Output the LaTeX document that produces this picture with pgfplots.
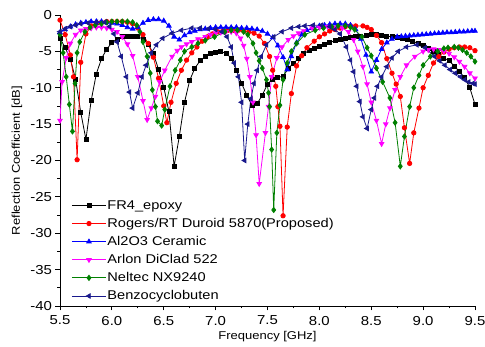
\documentclass[border=0pt]{standalone}
\usepackage{fontspec}
\setmainfont{Liberation Sans}[FakeStretch=1.15]
\usepackage{pgfplots}
\pgfplotsset{compat=1.18}
\definecolor{cblack}{RGB}{0,0,0}
\definecolor{cred}{RGB}{255,0,0}
\definecolor{cblue}{RGB}{0,0,255}
\definecolor{cmag}{RGB}{255,0,255}
\definecolor{cgreen}{RGB}{0,128,0}
\definecolor{cnavy}{RGB}{25,25,140}
\begin{document}
\begin{tikzpicture}
\begin{axis}[
  at={(0,0)}, anchor=south west,
  scale only axis, width=415pt, height=291pt,
  xmin=5.5, xmax=9.5, ymin=-40, ymax=0,
  axis x line*=bottom, axis y line*=left,
  axis line style={line width=0.8pt, -},
  xtick={5.5,6.0,6.5,7.0,7.5,8.0,8.5,9.0,9.5}, minor x tick num=1,
  ytick={-40,-35,-30,-25,-20,-15,-10,-5,0}, minor y tick num=1,
  tick align=outside,
  major tick length=4.5pt, minor tick length=2.5pt,
  tick style={line width=0.8pt, black},
  xticklabel style={yshift=-2pt, /pgf/number format/.cd, fixed, fixed zerofill, precision=1},
  /pgf/number format/assume math mode=true,
  tick label style={font=\fontsize{13}{15}\selectfont},
  xlabel={Frequency [GHz]}, ylabel={Reflection Coefficient [dB]},
  label style={font=\fontsize{11.3}{13}\selectfont},
  xlabel style={at={(axis description cs:0.5,-0.106)}, anchor=center},
  ylabel style={at={(axis description cs:-0.104,0.5)}, anchor=center},
  every axis plot/.append style={line width=0.8pt},
  legend cell align=left,
  legend image code/.code={\draw[mark repeat=2,mark phase=2,#1] plot coordinates {(0cm,0cm) (0.6cm,0cm) (1.2cm,0cm)};},
  legend style={draw=none, fill=none, at={(axis description cs:0.02,0.005)}, anchor=south west,
    font=\fontsize{12.7}{15}\selectfont, row sep=5.4pt,
    nodes={inner sep=1pt}},
]
\addplot[cblack, mark=square*, mark size=2pt] coordinates {
(5.50,-3.2)(5.55,-4.5)(5.60,-6.1)(5.65,-8.8)(5.70,-13.4)(5.75,-17.1)(5.80,-11.8)(5.85,-8.1)(5.90,-6.0)(5.95,-4.7)(6.00,-3.8)(6.05,-3.3)(6.10,-3.0)(6.15,-2.9)(6.20,-2.9)(6.25,-3.0)(6.30,-3.3)(6.35,-4.0)(6.40,-5.3)(6.45,-7.5)(6.50,-9.9)(6.55,-13.3)(6.60,-20.8)(6.65,-16.7)(6.70,-12.0)(6.75,-9.0)(6.80,-7.3)(6.85,-6.3)(6.90,-5.7)(6.95,-5.3)(7.00,-5.1)(7.05,-5.0)(7.10,-5.3)(7.15,-5.9)(7.20,-7.6)(7.25,-9.4)(7.30,-11.0)(7.35,-12.4)(7.40,-12.2)(7.45,-11.0)(7.50,-9.5)(7.55,-8.8)(7.60,-8.6)(7.65,-8.4)(7.70,-7.4)(7.75,-6.6)(7.80,-6.0)(7.85,-5.3)(7.90,-4.9)(7.95,-4.6)(8.00,-4.3)(8.05,-4.0)(8.10,-3.8)(8.15,-3.5)(8.20,-3.3)(8.25,-3.2)(8.30,-3.1)(8.35,-3.0)(8.40,-2.9)(8.45,-2.8)(8.50,-2.7)(8.55,-2.7)(8.60,-2.8)(8.65,-2.9)(8.70,-3.0)(8.75,-3.1)(8.80,-3.2)(8.85,-3.4)(8.90,-3.6)(8.95,-3.9)(9.00,-4.2)(9.05,-4.6)(9.10,-5.0)(9.15,-5.4)(9.20,-5.9)(9.25,-6.3)(9.30,-7.0)(9.35,-7.8)(9.40,-8.6)(9.45,-10.0)(9.50,-12.3)
};
\addlegendentry{FR4\_epoxy}
\addplot[cred, mark=*, mark size=2.2pt] coordinates {
(5.50,-0.7)(5.55,-2.7)(5.60,-5.5)(5.63,-8.5)(5.665,-19.9)(5.70,-6.5)(5.75,-2.6)(5.80,-1.5)(5.85,-1.1)(5.90,-1.0)(5.95,-0.9)(6.00,-0.9)(6.05,-0.9)(6.10,-0.9)(6.15,-1.0)(6.20,-1.2)(6.25,-1.8)(6.30,-2.7)(6.35,-3.9)(6.40,-5.8)(6.45,-8.7)(6.50,-12.5)(6.53,-14.8)(6.57,-12.0)(6.62,-9.4)(6.67,-7.6)(6.72,-6.2)(6.77,-5.2)(6.82,-4.4)(6.87,-3.6)(6.92,-3.0)(6.97,-2.6)(7.02,-2.3)(7.07,-2.2)(7.12,-2.1)(7.17,-2.1)(7.22,-2.1)(7.27,-2.2)(7.32,-2.3)(7.37,-2.5)(7.42,-2.9)(7.47,-3.9)(7.52,-5.7)(7.55,-7.6)(7.58,-9.8)(7.60,-12.6)(7.62,-15.3)(7.65,-27.6)(7.69,-15.4)(7.73,-10.8)(7.78,-7.0)(7.83,-5.6)(7.88,-4.5)(7.95,-3.6)(8.00,-3.0)(8.05,-2.6)(8.10,-2.2)(8.15,-2.0)(8.20,-1.8)(8.25,-1.6)(8.30,-1.5)(8.35,-1.5)(8.42,-1.5)(8.46,-1.7)(8.50,-2.0)(8.55,-2.8)(8.60,-3.8)(8.65,-6.0)(8.70,-8.0)(8.74,-9.5)(8.78,-11.2)(8.82,-15.5)(8.87,-20.4)(8.91,-16.2)(8.96,-12.8)(9.00,-10.0)(9.05,-8.3)(9.10,-6.6)(9.15,-5.7)(9.20,-5.1)(9.25,-4.7)(9.30,-4.5)(9.35,-4.4)(9.40,-4.4)(9.45,-4.5)(9.50,-4.9)
};
\addlegendentry{Rogers/RT Duroid 5870(Proposed)}
\addplot[cblue, mark=triangle*, mark size=2.6pt] coordinates {
(5.50,-2.4)(5.55,-2.0)(5.60,-1.6)(5.65,-1.3)(5.70,-1.1)(5.75,-1.0)(5.80,-0.9)(5.85,-0.9)(5.90,-0.9)(5.95,-1.0)(6.00,-1.1)(6.05,-1.2)(6.10,-1.4)(6.15,-1.7)(6.20,-1.9)(6.25,-1.7)(6.30,-1.1)(6.35,-0.7)(6.40,-0.6)(6.45,-0.6)(6.50,-0.8)(6.55,-1.5)(6.60,-3.0)(6.65,-3.4)(6.70,-2.8)(6.75,-2.4)(6.80,-2.2)(6.85,-2.0)(6.90,-1.9)(6.95,-1.8)(7.00,-1.7)(7.05,-1.7)(7.10,-1.7)(7.15,-1.7)(7.20,-1.7)(7.25,-1.8)(7.30,-1.8)(7.35,-1.9)(7.40,-2.0)(7.45,-2.2)(7.50,-2.6)(7.55,-3.1)(7.60,-4.2)(7.65,-5.8)(7.69,-7.5)(7.73,-5.7)(7.78,-3.8)(7.83,-2.7)(7.88,-2.1)(7.93,-1.8)(8.00,-1.5)(8.05,-1.4)(8.10,-1.3)(8.15,-1.2)(8.20,-1.2)(8.25,-1.2)(8.30,-1.4)(8.35,-2.0)(8.40,-3.3)(8.45,-5.5)(8.50,-7.8)(8.55,-6.2)(8.60,-4.7)(8.65,-3.8)(8.70,-3.3)(8.75,-3.0)(8.79,-2.95)(8.83,-2.9)(8.87,-2.85)(8.91,-2.8)(8.95,-2.75)(8.99,-2.7)(9.03,-2.65)(9.07,-2.6)(9.11,-2.55)(9.15,-2.5)(9.19,-2.45)(9.23,-2.4)(9.27,-2.4)(9.31,-2.35)(9.35,-2.3)(9.39,-2.3)(9.43,-2.25)(9.47,-2.2)(9.50,-2.2)
};
\addlegendentry{Al2O3 Ceramic}
\addplot[cmag, mark=triangle*, mark options={rotate=180}, mark size=2.6pt] coordinates {
(5.50,-14.5)(5.52,-9.2)(5.56,-5.9)(5.60,-3.9)(5.65,-2.7)(5.70,-2.1)(5.75,-1.9)(5.80,-1.8)(5.85,-1.7)(5.90,-1.7)(5.95,-1.8)(6.00,-2.0)(6.05,-2.3)(6.10,-3.0)(6.15,-4.0)(6.20,-5.6)(6.25,-8.5)(6.30,-11.8)(6.34,-14.4)(6.38,-12.8)(6.42,-11.2)(6.46,-9.2)(6.51,-7.6)(6.58,-5.7)(6.63,-4.9)(6.67,-4.4)(6.72,-4.0)(6.77,-3.7)(6.83,-3.3)(6.90,-3.0)(6.95,-2.7)(7.00,-2.5)(7.05,-2.4)(7.10,-2.3)(7.15,-2.3)(7.20,-2.5)(7.24,-3.2)(7.27,-4.2)(7.30,-6.0)(7.33,-8.5)(7.36,-12.0)(7.39,-16.5)(7.42,-23.2)(7.48,-16.2)(7.51,-12.6)(7.54,-8.5)(7.59,-5.9)(7.64,-4.4)(7.70,-3.4)(7.75,-2.9)(7.80,-2.5)(7.85,-2.2)(7.93,-1.8)(8.00,-1.7)(8.08,-1.6)(8.15,-1.7)(8.22,-1.8)(8.28,-2.3)(8.33,-3.4)(8.37,-5.0)(8.42,-7.1)(8.46,-9.5)(8.50,-12.0)(8.55,-14.5)(8.60,-17.7)(8.64,-15.0)(8.68,-12.8)(8.73,-10.3)(8.78,-8.5)(8.84,-6.9)(8.92,-5.7)(9.00,-5.0)(9.05,-4.8)(9.10,-4.7)(9.15,-4.8)(9.20,-5.0)(9.25,-5.3)(9.30,-5.8)(9.35,-6.4)(9.40,-7.1)(9.45,-8.0)(9.50,-8.7)
};
\addlegendentry{Arlon DiClad 522}
\addplot[cgreen, mark=diamond*, mark size=2.6pt] coordinates {
(5.50,-2.7)(5.53,-5.2)(5.56,-8.5)(5.59,-12.3)(5.62,-16.0)(5.645,-9.4)(5.665,-5.2)(5.69,-3.7)(5.74,-2.3)(5.79,-1.7)(5.84,-1.4)(5.90,-1.2)(5.95,-1.0)(6.00,-0.9)(6.05,-0.9)(6.10,-0.9)(6.15,-0.9)(6.20,-1.0)(6.24,-1.4)(6.27,-2.3)(6.30,-3.7)(6.34,-5.7)(6.37,-8.0)(6.39,-10.3)(6.42,-12.6)(6.44,-14.6)(6.48,-15.2)(6.51,-13.0)(6.56,-9.8)(6.61,-7.6)(6.66,-6.2)(6.70,-5.0)(6.77,-4.4)(6.83,-3.9)(6.90,-3.5)(6.99,-3.0)(7.09,-2.3)(7.15,-2.1)(7.21,-2.1)(7.27,-2.3)(7.31,-2.7)(7.36,-3.9)(7.39,-5.2)(7.42,-6.3)(7.45,-7.3)(7.49,-8.9)(7.51,-10.7)(7.52,-12.6)(7.54,-18.5)(7.56,-26.8)(7.59,-16.2)(7.62,-12.4)(7.65,-8.9)(7.69,-6.6)(7.73,-5.0)(7.78,-3.9)(7.86,-2.7)(7.96,-2.1)(8.04,-1.8)(8.12,-1.6)(8.18,-1.5)(8.25,-1.5)(8.30,-1.7)(8.34,-2.0)(8.41,-3.0)(8.46,-4.5)(8.50,-5.6)(8.55,-7.3)(8.61,-9.2)(8.68,-11.4)(8.73,-14.8)(8.78,-20.8)(8.82,-16.7)(8.87,-12.6)(8.91,-10.0)(8.96,-8.3)(9.00,-6.9)(9.07,-5.7)(9.14,-5.0)(9.20,-4.6)(9.24,-4.5)(9.30,-4.4)(9.34,-4.5)(9.38,-4.8)(9.42,-5.2)(9.46,-5.7)(9.50,-6.4)
};
\addlegendentry{Neltec NX9240}
\addplot[cnavy, mark=triangle*, mark options={rotate=90}, mark size=2.6pt] coordinates {
(5.50,-2.3)(5.55,-1.9)(5.60,-1.6)(5.65,-1.4)(5.70,-1.2)(5.77,-1.1)(5.85,-1.0)(5.93,-1.0)(5.98,-1.6)(6.02,-2.6)(6.05,-3.7)(6.09,-5.7)(6.14,-8.5)(6.17,-10.6)(6.20,-12.8)(6.25,-10.7)(6.29,-8.5)(6.33,-6.9)(6.38,-5.2)(6.43,-4.1)(6.49,-3.2)(6.58,-2.5)(6.67,-2.1)(6.77,-1.8)(6.85,-1.8)(6.93,-1.9)(7.00,-2.0)(7.06,-2.3)(7.11,-3.0)(7.15,-4.4)(7.18,-6.6)(7.22,-8.5)(7.25,-12.0)(7.28,-20.0)(7.31,-15.0)(7.34,-11.5)(7.37,-9.4)(7.40,-7.6)(7.44,-5.7)(7.49,-4.1)(7.56,-3.0)(7.64,-2.3)(7.73,-1.8)(7.80,-1.6)(7.86,-1.5)(7.94,-1.4)(8.02,-1.4)(8.10,-1.6)(8.15,-2.0)(8.20,-2.6)(8.26,-4.4)(8.30,-6.2)(8.33,-7.8)(8.36,-9.8)(8.39,-11.9)(8.42,-14.0)(8.46,-15.6)(8.50,-13.0)(8.53,-11.4)(8.56,-9.8)(8.60,-8.5)(8.65,-7.1)(8.70,-5.9)(8.76,-5.0)(8.84,-4.4)(8.94,-4.1)(9.02,-4.5)(9.11,-5.7)(9.16,-6.3)(9.21,-6.9)(9.26,-7.5)(9.31,-8.0)(9.36,-8.5)(9.40,-8.9)(9.44,-9.2)(9.48,-9.4)(9.50,-9.5)
};
\addlegendentry{Benzocyclobuten}
\end{axis}
\pgfresetboundingbox
\path (-60pt,-41pt) rectangle (425pt,306pt);
\end{tikzpicture}
\end{document}
